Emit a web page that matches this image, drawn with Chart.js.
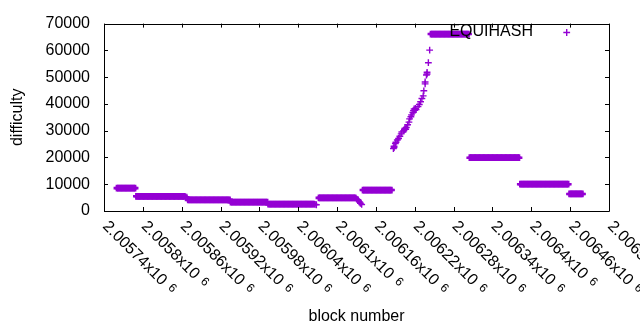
<!DOCTYPE html>
<html>
<head>
<meta charset="utf-8">
<script src="https://cdn.jsdelivr.net/npm/chart.js@4"></script>
<style>
  html, body { margin: 0; padding: 0; background: #fff; }
  #c { display: block; }
</style>
</head>
<body>
<canvas id="c" width="640" height="330"></canvas>
<script>
// flat stretches: the block numbers of each run, and the difficulty of that run
const stepBlocks = [
  [2005760,2005762,2005764,2005766,2005768,2005770,2005772,2005774,2005776,2005778,2005780,2005782,2005784,2005786,2005788],
  [2005790,2005792,2005794,2005796,2005798,2005800,2005802,2005804,2005806,2005808,2005810,2005812,2005814,2005816,2005818,2005820,2005822,2005824,2005826,2005828,
   2005830,2005832,2005834,2005836,2005838,2005840,2005842,2005844,2005846,2005848,2005850,2005852,2005854,2005856,2005858,2005860,2005862,2005864],
  [2005870,2005872,2005874,2005876,2005878,2005880,2005882,2005884,2005886,2005888,2005890,2005892,2005894,2005896,2005898,2005900,2005902,2005904,2005906,2005908,
   2005910,2005912,2005914,2005916,2005918,2005920,2005922,2005924,2005926,2005928,2005930,2005932,2005934],
  [2005936,2005938,2005940,2005942,2005944,2005946,2005948,2005950,2005952,2005954,2005956,2005958,2005960,2005962,2005964,2005966,2005968,2005970,2005972,2005974,
   2005976,2005978,2005980,2005982,2005984,2005986,2005988,2005990,2005992],
  [2005994,2005996,2005998,2006000,2006002,2006004,2006006,2006008,2006010,2006012,2006014,2006016,2006018,2006020,2006022,2006024,2006026,2006028,2006030,2006032,
   2006034,2006036,2006038,2006040,2006042,2006044,2006046,2006048,2006050,2006052,2006054,2006056,2006058,2006060,2006062,2006064],
  [2006072,2006074,2006076,2006078,2006080,2006082,2006084,2006086,2006088,2006090,2006092,2006094,2006096,2006098,2006100,2006102,2006104,2006106,2006108,2006110,
   2006112,2006114,2006116,2006118,2006120,2006122,2006124,2006126,2006128],
  [2006140,2006142,2006144,2006146,2006148,2006150,2006152,2006154,2006156,2006158,2006160,2006162,2006164,2006166,2006168,2006170,2006172,2006174,2006176,2006178,
   2006180,2006182,2006184],
  [2006245,2006247,2006249,2006251,2006253,2006255,2006257,2006259,2006261,2006263,2006265,2006267,2006269,2006271,2006273,2006275,2006277,2006279,2006281,2006283,
   2006285,2006287,2006289,2006291,2006293,2006295,2006297,2006299,2006301,2006303],
  [2006305,2006307,2006309,2006311,2006313,2006315,2006317,2006319,2006321,2006323,2006325,2006327,2006329,2006331,2006333,2006335,2006337,2006339,2006341,2006343,
   2006345,2006347,2006349,2006351,2006353,2006355,2006357,2006359,2006361,2006363,2006365,2006367,2006369,2006371,2006373,2006375,2006377,2006379,2006381],
  [2006383,2006385,2006387,2006389,2006391,2006393,2006395,2006397,2006399,2006401,2006403,2006405,2006407,2006409,2006411,2006413,2006415,2006417,2006419,2006421,
   2006423,2006425,2006427,2006429,2006431,2006433,2006435,2006437,2006439,2006441,2006443,2006445,2006447,2006449,2006451,2006453,2006455,2006457],
  [2006459,2006461,2006463,2006465,2006467,2006469,2006471,2006473,2006475,2006477,2006479]
];
const stepDifficulty = [8560, 5490, 4170, 3290, 2560, 4900, 7830, 66090, 19900, 10020, 6360];

// the points off the flat runs: run ends, the drop after 2006128 and the climb to 66000
const otherBlocks = [
  2005866,2005868, 2006066,2006068,
  2006130,2006132,2006133,2006135,2006136,2006138,
  2006187,2006188,2006188,2006190,2006191,2006193,2006195,2006197,2006199,2006200,2006203,2006204,2006205,2006206,2006207,2006209,2006211,2006212,2006214,2006215,
  2006217,2006218,2006219,2006220,2006221,2006222,2006225,2006227,2006229,2006231,2006233,2006234,2006236,2006236,2006238,2006239,2006239,2006241,2006243
];
const otherDifficulty = [
  5300,5200, 2450,2340,
  4500,4200,3900,3300,2900,2450,
  23300,23700,24200,25200,25700,26500,27100,27900,28800,29500,30000,30400,30900,30500,31200,32200,33200,34400,35200,35900,
  36800,37500,38100,37600,38300,37900,39000,39800,40800,42000,43000,44900,47500,48200,50800,51800,51200,55400,60100
];

const xTickValues = [2005740,2005800,2005860,2005920,2005980,2006040,2006100,2006160,2006220,2006280,2006340,2006400,2006460,2006520];
const xTickLabels = ['2.00574','2.0058','2.00586','2.00592','2.00598','2.00604','2.0061','2.00616','2.00622','2.00628','2.00634','2.0064','2.00646','2.00652'];
const yTicks = [0,10000,20000,30000,40000,50000,60000,70000];

const purple = '#9400d3';
const FONT = '"Liberation Sans", Arial, sans-serif';

let flatPoints = [];
stepBlocks.forEach((run, i) => run.forEach(b => flatPoints.push({ x: b, y: stepDifficulty[i] })));
let otherPoints = otherBlocks.map((b, i) => ({ x: b, y: otherDifficulty[i] }));

// gnuplot style frame, inward ticks, rotated labels and key
const gnuplotBits = {
  id: 'gnuplotBits',
  afterDraw(chart) {
    const ctx = chart.ctx;
    const a = chart.chartArea;
    const xs = chart.scales.x, ys = chart.scales.y;
    ctx.save();
    ctx.strokeStyle = '#000';
    ctx.lineWidth = 1;
    ctx.beginPath();
    ctx.rect(Math.round(a.left) + 0.5, Math.round(a.top) + 0.5, Math.round(a.right - a.left), Math.round(a.bottom - a.top));
    xTickValues.forEach(v => {
      const px = Math.round(xs.getPixelForValue(v)) + 0.5;
      ctx.moveTo(px, a.bottom); ctx.lineTo(px, a.bottom - 4);
      ctx.moveTo(px, a.top); ctx.lineTo(px, a.top + 4);
    });
    yTicks.forEach(v => {
      const py = Math.round(ys.getPixelForValue(v)) + 0.5;
      ctx.moveTo(a.left, py); ctx.lineTo(a.left + 4, py);
      ctx.moveTo(a.right, py); ctx.lineTo(a.right - 4, py);
    });
    ctx.stroke();

    // rotated x tick labels  e.g. 2.00574x10^6
    ctx.fillStyle = '#000';
    xTickValues.forEach((v, i) => {
      const px = xs.getPixelForValue(v);
      ctx.save();
      ctx.translate(px - 2, 227);
      ctx.rotate(Math.PI / 4);
      ctx.textAlign = 'left';
      ctx.textBaseline = 'alphabetic';
      ctx.font = '16px ' + FONT;
      const main = xTickLabels[i] + 'x10';
      ctx.fillText(main, 0, 0);
      const w = ctx.measureText(main).width;
      ctx.font = '12px ' + FONT;
      ctx.fillText('6', w + 6, -3);
      ctx.restore();
    });

    // key
    ctx.font = '16px ' + FONT;
    ctx.textAlign = 'right';
    ctx.textBaseline = 'middle';
    ctx.fillText('EQUIHASH', 533, 32);
    ctx.strokeStyle = purple;
    ctx.lineWidth = 1.4;
    ctx.beginPath();
    ctx.moveTo(563.3, 32.5); ctx.lineTo(570.1, 32.5);
    ctx.moveTo(566.7, 29.1); ctx.lineTo(566.7, 35.9);
    ctx.stroke();
    ctx.restore();
  }
};

new Chart(document.getElementById('c'), {
  type: 'scatter',
  data: {
    datasets: [{
      label: 'EQUIHASH',
      data: flatPoints,
      pointStyle: 'cross',
      pointRadius: 3.4,
      pointBorderWidth: 2.6,
      borderColor: purple,
      backgroundColor: purple
    }, {
      label: 'EQUIHASH',
      data: otherPoints,
      pointStyle: 'cross',
      pointRadius: 3.4,
      pointBorderWidth: 1.4,
      borderColor: purple,
      backgroundColor: purple
    }]
  },
  options: {
    responsive: false,
    animation: false,
    devicePixelRatio: 1,
    layout: { padding: { left: 0, right: 31, top: 19, bottom: 0 } },
    plugins: { legend: { display: false }, tooltip: { enabled: false } },
    scales: {
      x: {
        type: 'linear',
        min: 2005740,
        max: 2006520,
        afterBuildTicks: s => { s.ticks = xTickValues.map(v => ({ value: v })); },
        afterFit: s => { s.height = 119; },
        grid: { display: false, drawTicks: false },
        border: { display: false },
        ticks: { display: false },
        title: { display: true, text: 'block number', color: '#000', font: { family: FONT, size: 16 }, padding: { top: 0, bottom: 4 } }
      },
      y: {
        min: 0,
        max: 70000,
        afterBuildTicks: s => { s.ticks = yTicks.map(v => ({ value: v })); },
        afterFit: s => { s.width = 104; },
        grid: { display: false, drawTicks: false },
        border: { display: false },
        ticks: { color: '#000', font: { family: FONT, size: 16 }, padding: 14, callback: v => String(v) },
        title: { display: true, text: 'difficulty', color: '#000', font: { family: FONT, size: 16 }, padding: { top: 8, bottom: 0 } }
      }
    }
  },
  plugins: [gnuplotBits]
});
</script>
</body>
</html>
